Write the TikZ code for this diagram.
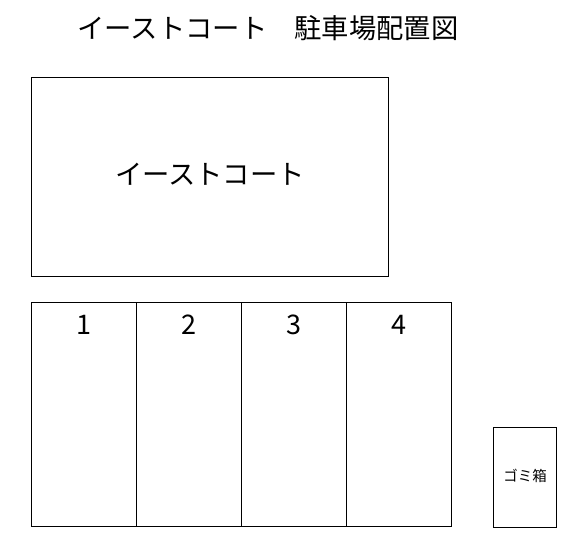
\documentclass[tikz,border=0pt]{standalone}
\usepackage{fontspec}
\setmainfont{Noto Sans CJK JP}
\begin{document}
\begin{tikzpicture}[x=1pt,y=-1pt,
  box/.style={draw=black,line width=1pt,fill=white},
  big/.style={font=\fontsize{27.3}{31}\selectfont,inner sep=0pt},
  num/.style={font=\fontsize{27}{31}\selectfont,inner sep=0pt},
  small/.style={font=\fontsize{14.5}{17}\selectfont,inner sep=0pt}]
\useasboundingbox[fill=white] (0,0) rectangle (576,549);
\node[big] (title) at (268,28) {イーストコート　駐車場配置図};
\draw[box] (31,77) rectangle (388,276);
\node[big] (court) at (210,174) {イーストコート};
\foreach \i/\a/\b in {1/31/136,2/136/241,3/241/346,4/346/451}{
  \draw[box] (\a,302) rectangle (\b,526);
  \node[num] (n\i) at ({(\a+\b)/2},325) {\i};
}
\draw[box] (493,427) rectangle (556,527);
\node[small] (trash) at (525,476) {ゴミ箱};
\end{tikzpicture}
\end{document}
